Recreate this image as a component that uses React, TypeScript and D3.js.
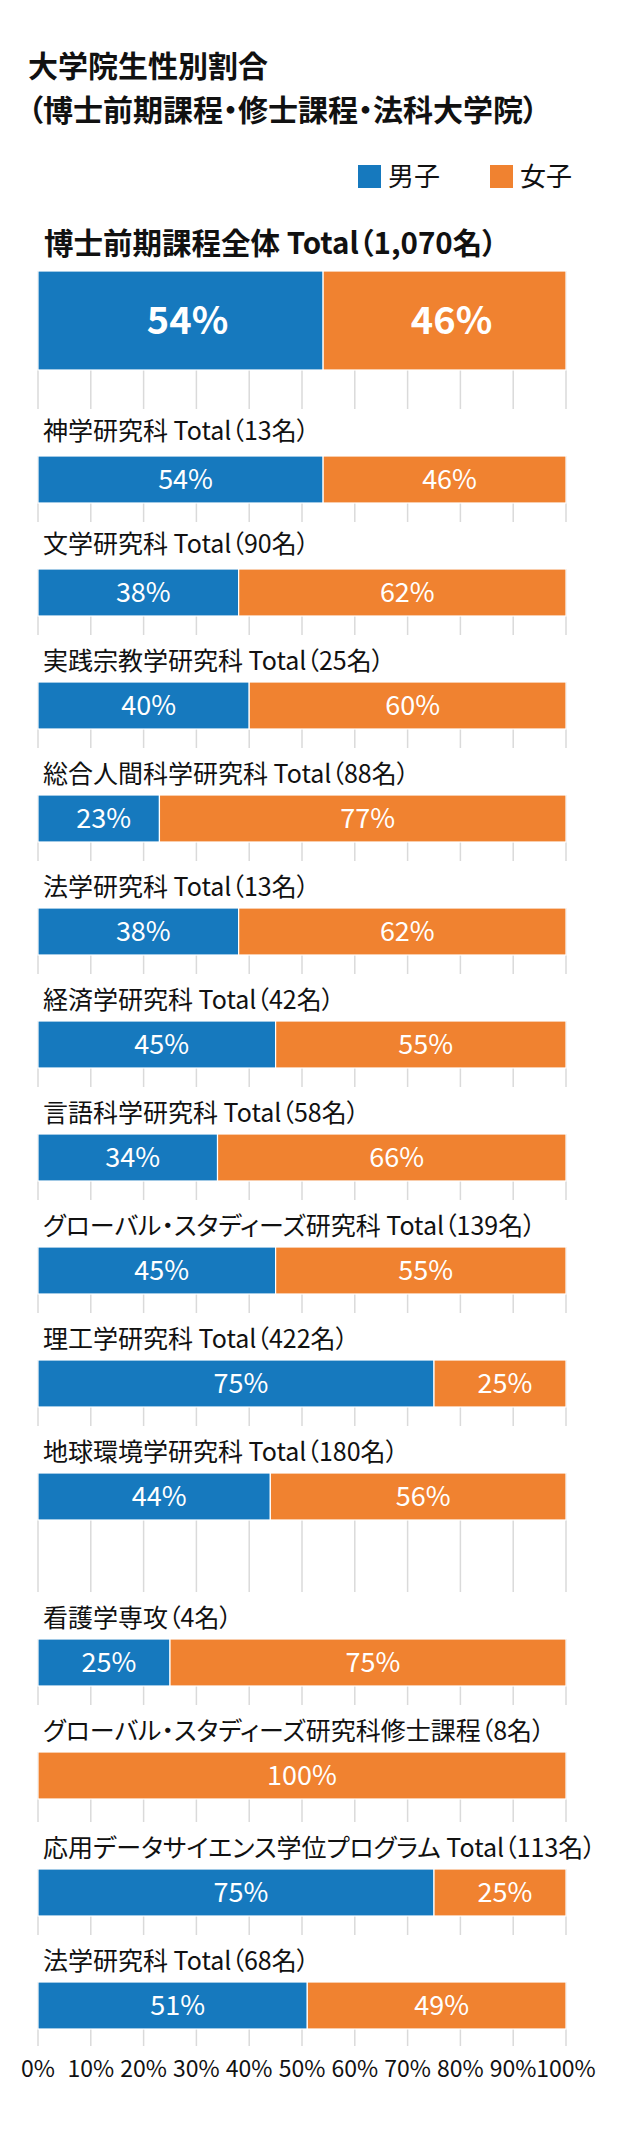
import React from "react";
import * as d3 from "d3";

const titleLines = ["大学院生性別割合", "（博士前期課程・修士課程・法科大学院）"];
const legendLabels = ["男子", "女子"];
const departments = [
  "博士前期課程全体 Total（1,070名）",
  "神学研究科 Total（13名）",
  "文学研究科 Total（90名）",
  "実践宗教学研究科 Total（25名）",
  "総合人間科学研究科 Total（88名）",
  "法学研究科 Total（13名）",
  "経済学研究科 Total（42名）",
  "言語科学研究科 Total（58名）",
  "グローバル・スタディーズ研究科 Total（139名）",
  "理工学研究科 Total（422名）",
  "地球環境学研究科 Total（180名）",
  "看護学専攻（4名）",
  "グローバル・スタディーズ研究科修士課程（8名）",
  "応用データサイエンス学位プログラム Total（113名）",
  "法学研究科 Total（68名）",
];
const malePct = [54, 54, 38, 40, 23, 38, 45, 34, 45, 75, 44, 25, 0, 75, 51];
const femalePct = [46, 46, 62, 60, 77, 62, 55, 66, 55, 25, 56, 75, 100, 25, 49];
const xTicks = [0, 10, 20, 30, 40, 50, 60, 70, 80, 90, 100];

const BLUE = "#1679be";
const ORANGE = "#f08230";
const GRID = "#dadada";
const FONT = "'Noto Sans CJK JP', 'Noto Sans', sans-serif";

// layout (not data)
const MAIN_TOP = 271;
const FIRST_TOP = 456;
const PITCH = 113;
const extraGap = [0, 0, 0, 0, 0, 0, 0, 0, 0, 0, 0, 53, 0, 4, 0];
const labelGap = [17, 16, 16, 12, 12, 12, 12, 12, 12, 12, 12, 12, 12, 12, 12];

export default function App() {
  const W = 631;
  const H = 2138;
  const x = d3.scaleLinear().domain([0, 100]).range([38, 566]);

  const tops: number[] = [];
  departments.forEach((_, i) => {
    if (i === 0) tops.push(MAIN_TOP);
    else if (i === 1) tops.push(FIRST_TOP);
    else tops.push(tops[i - 1] + PITCH + extraGap[i]);
  });
  const heights = departments.map((_, i) => (i === 0 ? 99 : 47));
  const last = departments.length - 1;
  const gridBottom = (i: number) =>
    i === last ? tops[i] + heights[i] + 17 : tops[i + 1] - 47;

  const ff = { fontFamily: FONT, fontFeatureSettings: "'palt'" } as React.CSSProperties;

  return (
    <svg width={W} height={H} style={{ display: "block", margin: "-8px 0 0 -8px" }}>
      <rect width={W} height={H} fill="#fff" />
      <g style={ff}>
        <text x={28} y={77} fontSize={30} fontWeight={700} fill="#111">{titleLines[0]}</text>
        <text x={28} y={121} fontSize={30} fontWeight={700} fill="#111">{titleLines[1]}</text>
        {legendLabels.map((l, i) => (
          <g key={l} transform={`translate(${358 + i * 132},165)`}>
            <rect width={23} height={23} fill={i === 0 ? BLUE : ORANGE} />
            <text x={30} y={21} fontSize={26} fill="#111">{l}</text>
          </g>
        ))}
      </g>
      {departments.map((d, i) => {
        const top = tops[i];
        const h = heights[i];
        const big = i === 0;
        const m = malePct[i];
        const f = femalePct[i];
        const fs = big ? 38 : 27;
        const dx = big ? 7 : 5;
        return (
          <g key={i} style={ff}>
            {xTicks.map((t) => (
              <line key={t} x1={x(t)} x2={x(t)} y1={top} y2={gridBottom(i)} stroke={GRID} strokeWidth={1.5} />
            ))}
            <text x={big ? 44 : 43} y={top - labelGap[i]} fontSize={big ? 29.5 : 25} fontWeight={big ? 700 : 400} fill="#111">{d}</text>
            {m > 0 && (
              <rect x={x(0)} y={top} width={x(m) - x(0)} height={h} fill={BLUE} stroke="#fff" strokeWidth={1.2} />
            )}
            {f > 0 && (
              <rect x={x(m)} y={top} width={x(m + f) - x(m)} height={h} fill={ORANGE} stroke="#fff" strokeWidth={1.2} />
            )}
            {m > 0 && (
              <text x={(x(0) + x(m)) / 2 + dx} y={top + h / 2} dy="0.36em" textAnchor="middle" fontSize={fs} fontWeight={big ? 700 : 400} fill="#fff">{m}%</text>
            )}
            {f > 0 && (
              <text x={(x(m) + x(m + f)) / 2 + (m > 0 ? dx : 0)} y={top + h / 2} dy="0.36em" textAnchor="middle" fontSize={fs} fontWeight={big ? 700 : 400} fill="#fff">{f}%</text>
            )}
          </g>
        );
      })}
      <g style={ff}>
        {xTicks.map((t) => (
          <text key={t} x={x(t)} y={2077} textAnchor="middle" fontSize={23} fill="#111">{t}%</text>
        ))}
      </g>
    </svg>
  );
}
